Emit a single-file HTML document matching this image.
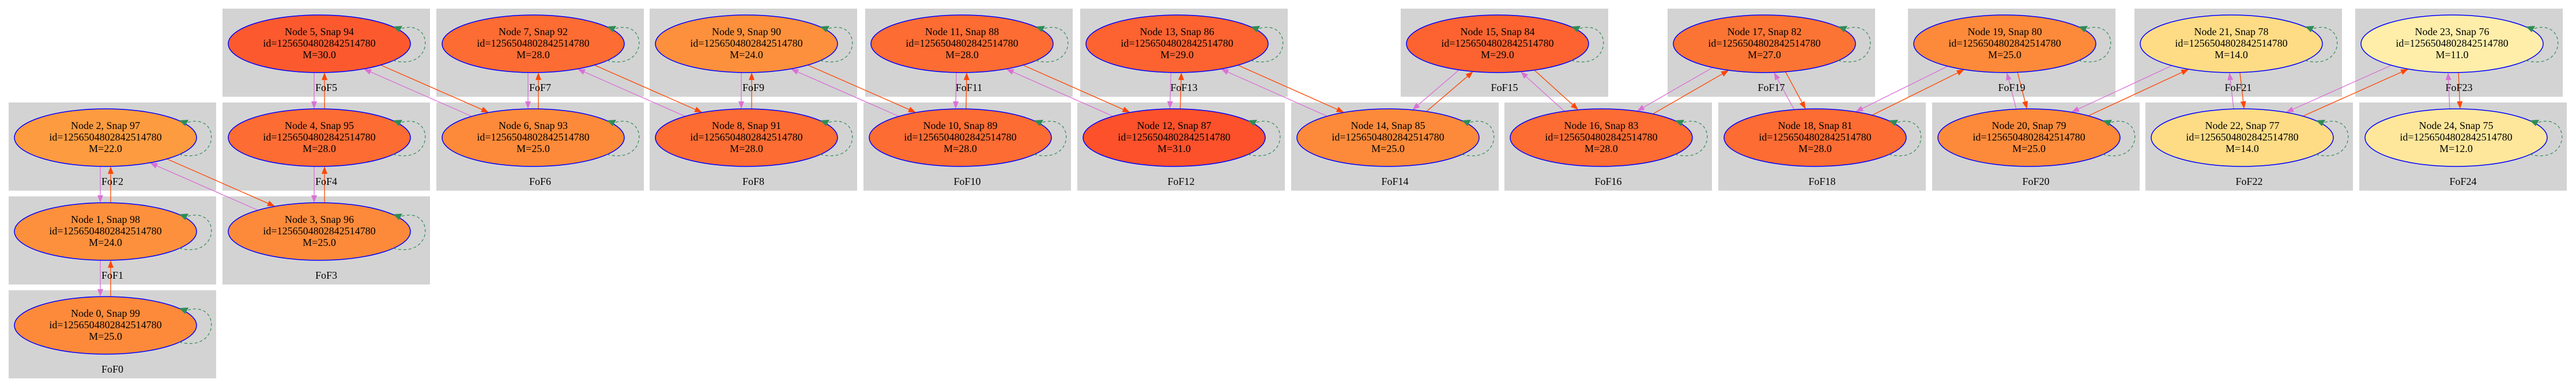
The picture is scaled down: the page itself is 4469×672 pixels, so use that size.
<!DOCTYPE html>
<html><head><meta charset="utf-8"><style>
html,body{margin:0;padding:0;background:#fff;}
svg{display:block;}
text{font-family:"Liberation Serif",serif;font-size:18px;fill:#000;text-anchor:middle;}
</style></head><body>
<svg id="s" width="4469" height="672" xmlns="http://www.w3.org/2000/svg">
<g id="clusters"></g>
<g id="edges"></g>
<g id="nodes"></g>
<g id="labels">
<text x="195" y="647">FoF0</text>
<text x="195" y="484">FoF1</text>
<text x="195" y="321">FoF2</text>
<text x="566" y="484">FoF3</text>
<text x="566" y="321">FoF4</text>
<text x="566" y="158">FoF5</text>
<text x="937" y="321">FoF6</text>
<text x="937" y="158">FoF7</text>
<text x="1307" y="321">FoF8</text>
<text x="1307" y="158">FoF9</text>
<text x="1678" y="321">FoF10</text>
<text x="1681" y="158">FoF11</text>
<text x="2049" y="321">FoF12</text>
<text x="2054" y="158">FoF13</text>
<text x="2420" y="321">FoF14</text>
<text x="2610" y="158">FoF15</text>
<text x="2790" y="321">FoF16</text>
<text x="3073" y="158">FoF17</text>
<text x="3161" y="321">FoF18</text>
<text x="3490" y="158">FoF19</text>
<text x="3532" y="321">FoF20</text>
<text x="3883" y="158">FoF21</text>
<text x="3902" y="321">FoF22</text>
<text x="4266" y="158">FoF23</text>
<text x="4273" y="321">FoF24</text>
</g>
<g id="ntext">
<text x="183" y="550">Node 0, Snap 99</text><text x="183" y="570">id=1256504802842514780</text><text x="183" y="590">M=25.0</text>
<text x="183" y="387">Node 1, Snap 98</text><text x="183" y="407">id=1256504802842514780</text><text x="183" y="427">M=24.0</text>
<text x="183" y="224">Node 2, Snap 97</text><text x="183" y="244">id=1256504802842514780</text><text x="183" y="264">M=22.0</text>
<text x="554" y="387">Node 3, Snap 96</text><text x="554" y="407">id=1256504802842514780</text><text x="554" y="427">M=25.0</text>
<text x="554" y="224">Node 4, Snap 95</text><text x="554" y="244">id=1256504802842514780</text><text x="554" y="264">M=28.0</text>
<text x="554" y="61">Node 5, Snap 94</text><text x="554" y="81">id=1256504802842514780</text><text x="554" y="101">M=30.0</text>
<text x="925" y="224">Node 6, Snap 93</text><text x="925" y="244">id=1256504802842514780</text><text x="925" y="264">M=25.0</text>
<text x="925" y="61">Node 7, Snap 92</text><text x="925" y="81">id=1256504802842514780</text><text x="925" y="101">M=28.0</text>
<text x="1295" y="224">Node 8, Snap 91</text><text x="1295" y="244">id=1256504802842514780</text><text x="1295" y="264">M=28.0</text>
<text x="1295" y="61">Node 9, Snap 90</text><text x="1295" y="81">id=1256504802842514780</text><text x="1295" y="101">M=24.0</text>
<text x="1666" y="224">Node 10, Snap 89</text><text x="1666" y="244">id=1256504802842514780</text><text x="1666" y="264">M=28.0</text>
<text x="1669" y="61">Node 11, Snap 88</text><text x="1669" y="81">id=1256504802842514780</text><text x="1669" y="101">M=28.0</text>
<text x="2037" y="224">Node 12, Snap 87</text><text x="2037" y="244">id=1256504802842514780</text><text x="2037" y="264">M=31.0</text>
<text x="2042" y="61">Node 13, Snap 86</text><text x="2042" y="81">id=1256504802842514780</text><text x="2042" y="101">M=29.0</text>
<text x="2408" y="224">Node 14, Snap 85</text><text x="2408" y="244">id=1256504802842514780</text><text x="2408" y="264">M=25.0</text>
<text x="2598" y="61">Node 15, Snap 84</text><text x="2598" y="81">id=1256504802842514780</text><text x="2598" y="101">M=29.0</text>
<text x="2778" y="224">Node 16, Snap 83</text><text x="2778" y="244">id=1256504802842514780</text><text x="2778" y="264">M=28.0</text>
<text x="3061" y="61">Node 17, Snap 82</text><text x="3061" y="81">id=1256504802842514780</text><text x="3061" y="101">M=27.0</text>
<text x="3149" y="224">Node 18, Snap 81</text><text x="3149" y="244">id=1256504802842514780</text><text x="3149" y="264">M=28.0</text>
<text x="3478" y="61">Node 19, Snap 80</text><text x="3478" y="81">id=1256504802842514780</text><text x="3478" y="101">M=25.0</text>
<text x="3520" y="224">Node 20, Snap 79</text><text x="3520" y="244">id=1256504802842514780</text><text x="3520" y="264">M=25.0</text>
<text x="3871" y="61">Node 21, Snap 78</text><text x="3871" y="81">id=1256504802842514780</text><text x="3871" y="101">M=14.0</text>
<text x="3890" y="224">Node 22, Snap 77</text><text x="3890" y="244">id=1256504802842514780</text><text x="3890" y="264">M=14.0</text>
<text x="4254" y="61">Node 23, Snap 76</text><text x="4254" y="81">id=1256504802842514780</text><text x="4254" y="101">M=11.0</text>
<text x="4261" y="224">Node 24, Snap 75</text><text x="4261" y="244">id=1256504802842514780</text><text x="4261" y="264">M=12.0</text>
</g>
</svg>
<script>
var N=[[15,504,'#fd8a3a'],[15,341,'#fd903c'],[15,178,'#fd9b40'],[386,341,'#fd8a3a'],[386,178,'#fc6c33'],[386,15,'#fc5a2e'],
[757,178,'#fd8a3a'],[757,15,'#fc6c33'],[1127,178,'#fc6c33'],[1127,15,'#fd903c'],[1498,178,'#fc6c33'],[1501,15,'#fc6c33'],
[1869,178,'#fc512a'],[1874,15,'#fc6330'],[2240,178,'#fd8a3a'],[2430,15,'#fc6330'],[2610,178,'#fc6c33'],[2893,15,'#fc7434'],
[2981,178,'#fc6c33'],[3310,15,'#fd8a3a'],[3352,178,'#fd8a3a'],[3703,15,'#fedc85'],[3722,178,'#fedc85'],[4086,15,'#feeeaa'],[4093,178,'#fee79b']];
var NS='http://www.w3.org/2000/svg',RX=158,RY=50;
function el(p,t,a){var e=document.createElementNS(NS,t);for(var k in a)e.setAttribute(k,a[k]);document.getElementById(p).appendChild(e);return e;}
var C=N.map(function(n){return [n[0]+168,n[1]+61];});
N.forEach(function(n,i){
 el('clusters','rect',{x:n[0],y:n[1],width:360,height:153,fill:'#d3d3d3'});
 var cx=C[i][0],cy=C[i][1];
 el('nodes','ellipse',{cx:cx,cy:cy,rx:RX,ry:RY,fill:n[2],stroke:'#0000ff','stroke-width':1.5});
 el('nodes','path',{d:'M'+(cx+128)+','+(cy+29)+' C'+(cx+200)+','+(cy+48)+' '+(cx+200)+','+(cy-45)+' '+(cx+141)+','+(cy-26),fill:'none',stroke:'#2e8b57','stroke-width':1.2,'stroke-dasharray':'5,4'});
 el('nodes','polygon',{points:(cx+128)+','+(cy-30)+' '+(cx+138)+','+(cy-20)+' '+(cx+144)+','+(cy-31),fill:'#2e8b57'});
});
function clip(P,D,c,big){var ax=(P[0]-c[0])/RX,ay=(P[1]-c[1])/RY,dx=D[0]/RX,dy=D[1]/RY;
 var a=dx*dx+dy*dy,b=2*(ax*dx+ay*dy),cc=ax*ax+ay*ay-1,disc=Math.sqrt(Math.max(0,b*b-4*a*cc));
 return big?(-b+disc)/(2*a):(-b-disc)/(2*a);}
function arrow(S,T,col){ // from S to T points (centers), offset applied already
 var dx=T[0]-S[0],dy=T[1]-S[1];return [dx,dy];}
function edge(A,B,off,col){ // A source center, B target center
 var dx=B[0]-A[0],dy=B[1]-A[1],L=Math.hypot(dx,dy);var ux=dx/L,uy=dy/L;
 var P=[A[0]+off[0],A[1]+off[1]],D=[dx,dy];
 var t0=clip(P,D,A,true),t1=clip(P,D,B,false);
 var sx=P[0]+t0*dx,sy=P[1]+t0*dy,ex=P[0]+t1*dx,ey=P[1]+t1*dy;
 var bx=ex-ux*13,by=ey-uy*13;
 el('edges','line',{x1:sx,y1:sy,x2:bx,y2:by,stroke:col,'stroke-width':1.3});
 el('edges','polygon',{points:ex+','+ey+' '+(bx-uy*5)+','+(by+ux*5)+' '+(bx+uy*5)+','+(by-ux*5),fill:col});
}
for(var i=0;i<24;i++){
 var A=C[i],B=C[i+1];var dx=B[0]-A[0],dy=B[1]-A[1],L=Math.hypot(dx,dy);
 var px=-dy/L,py=dx/L;if(px>0||(Math.abs(px)<1e-9&&py<0)){px=-px;py=-py;}
 edge(B,A,[px*9,py*9],'#da70d6');
 edge(A,B,[-px*9,-py*9],'#ff4500');
}
</script>
</body></html>
